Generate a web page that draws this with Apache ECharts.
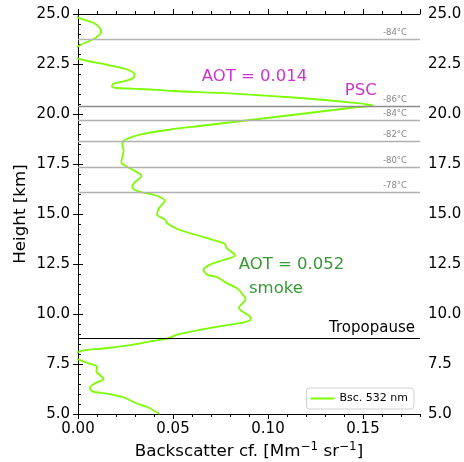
<!DOCTYPE html>
<html>
<head>
<meta charset="utf-8">
<script src="https://cdn.jsdelivr.net/npm/echarts@6/dist/echarts.min.js"></script>
<style>html,body{margin:0;padding:0;background:#fff}#c{width:464px;height:462px}</style>
</head>
<body>
<div id="c"></div>
<script>
// Height [km] of each profile point (top to bottom)
const heights = [25.0,24.8,24.55,24.3,24.08,23.9,23.75,23.4,23.0,22.76,22.46,22.25,22.0,21.8,21.63,21.5,21.38,21.3,21.25,21.15,21.03,20.8,20.58,20.43,20.3,20.0,19.7,19.4,19.22,18.97,18.7,18.47,18.2,17.9,17.63,17.47,17.2,16.9,16.58,16.35,16.13,15.97,15.66,15.3,14.97,14.72,14.5,14.2,13.9,13.7,13.5,13.3,12.93,12.7,12.47,12.2,11.97,11.84,11.53,11.28,10.9,10.75,10.3,10.08,9.88,9.72,9.58,9.42,9.22,8.97,8.77,8.63,8.47,8.3,8.18,8.1,7.9,7.72,7.53,7.37,7.13,6.92,6.75,6.55,6.3,6.13,6.02,5.83,5.55,5.35,5.0];
// Backscatter coefficient 532 nm [Mm^-1 sr^-1]
const bsc532 = [-0.002,0.0005,0.0083,0.0115,0.0121,0.0105,0.0083,0.0004,-0.004,0.0004,0.0153,0.025,0.0297,0.029,0.024,0.0184,0.0179,0.0205,0.0329,0.050,0.080,0.117,0.143,0.155,0.143,0.117,0.0906,0.064,0.0484,0.0326,0.0247,0.0233,0.024,0.0235,0.0228,0.0237,0.029,0.0334,0.0298,0.0286,0.0316,0.0395,0.0457,0.0427,0.0416,0.0457,0.0474,0.0536,0.0641,0.0712,0.0773,0.0782,0.0826,0.0765,0.0694,0.066,0.068,0.0733,0.0785,0.0838,0.0873,0.0882,0.0847,0.0873,0.0905,0.0908,0.0873,0.0768,0.0645,0.0522,0.0469,0.0381,0.0293,0.0153,0.003,0.0004,-0.004,0.0004,0.0056,0.01,0.0097,0.0118,0.0135,0.0092,0.0062,0.0074,0.0153,0.0241,0.0302,0.0364,0.043];
// Temperature reference levels
const refHeights = [23.72,20.38,19.68,18.63,17.33,16.08];
const refTemps = ['-84°C','-86°C','-84°C','-82°C','-80°C','-78°C'];
const tropopauseHeight = 8.77;
// Annotations: text, x value, height
const annTexts = ['AOT = 0.014','PSC','AOT = 0.052','smoke'];
const annX = [0.0651,0.1404,0.0846,0.09];
const annH = [21.87,21.17,12.47,11.25];
const annColors = ['#bf00bf','#bf00bf','#008000','#008000'];
const xTickLabels = ['0.00','0.05','0.10','0.15'];
const yTickLabels = ['5.0','7.5','10.0','12.5','15.0','17.5','20.0','22.5','25.0'];

const FONT = 'DejaVu Sans';
const chart = echarts.init(document.getElementById('c'));
const black = {color:'#000', width:1};
const refColors = ['#b5b5b5','#8c8c8c','#b0b0b0','#b0b0b0','#b0b0b0','#b0b0b0'];

const markData = refHeights.map((h,i)=>({
  yAxis: h,
  lineStyle:{color:refColors[i], width:1.3, type:'solid'},
  label:{show:true, formatter:refTemps[i], position:'insideEndTop', distance:[13,2], color:'#888', fontSize:8.5, fontFamily:FONT}
}));
markData.push({
  yAxis: tropopauseHeight,
  lineStyle:{color:'#000', width:1.2, type:'solid'},
  label:{show:true, formatter:'Tropopause', position:'insideEndTop', distance:[5,3], color:'#000', fontSize:15, fontFamily:FONT}
});

const common = {type:'value', min:0, max:0.18, splitLine:{show:false}};
const option = {
  animation:false,
  textStyle:{fontFamily:FONT},
  grid:{left:78, top:14, right:44, bottom:48, containLabel:false, outerBoundsMode:'none'},
  legend:{
    data:['Bsc. 532 nm'], right:50, bottom:53, orient:'vertical',
    icon:'rect', itemWidth:24, itemHeight:2, itemGap:0,
    backgroundColor:'#fff', borderColor:'#d0d0d0', borderWidth:1, borderRadius:3,
    padding:[5,6,5,4],
    textStyle:{fontSize:11, color:'#000', fontFamily:FONT}
  },
  xAxis:[
    Object.assign({}, common, {position:'bottom', interval:0.05,
      axisLine:{show:true, lineStyle:black}, axisTick:{show:true, length:5, lineStyle:black},
      axisLabel:{show:true, fontSize:15, color:'#000', margin:8, showMaxLabel:false,
        formatter:(v)=>{const i=Math.round(v/0.05); return Math.abs(v-i*0.05)<1e-9 && xTickLabels[i] ? xTickLabels[i] : '';}},
      name:'{a|Backscatter cf. [Mm}{s|−1}{a| sr}{s|−1}{a|]}', nameLocation:'middle', nameGap:27, nameMoveOverlap:false,
      nameTextStyle:{rich:{a:{fontSize:16.7, color:'#000', fontFamily:FONT}, s:{fontSize:12, color:'#000', fontFamily:FONT, padding:[0,0,9,0]}}}
    }),
    Object.assign({}, common, {position:'bottom', interval:0.01,
      axisLine:{show:false}, axisTick:{show:true, length:3, lineStyle:black}, axisLabel:{show:false}}),
    Object.assign({}, common, {position:'top', interval:0.05,
      axisLine:{show:true, lineStyle:black}, axisTick:{show:true, length:5, lineStyle:black}, axisLabel:{show:false}}),
    Object.assign({}, common, {position:'top', interval:0.01,
      axisLine:{show:false}, axisTick:{show:true, length:3, lineStyle:black}, axisLabel:{show:false}})
  ],
  yAxis:[
    {type:'value', position:'left', min:5, max:25, interval:2.5, splitLine:{show:false},
      axisLine:{show:true, lineStyle:black}, axisTick:{show:true, length:5, lineStyle:black},
      axisLabel:{fontSize:15, color:'#000', margin:8, formatter:(v)=>yTickLabels[Math.round((v-5)/2.5)]},
      name:'Height [km]', nameLocation:'middle', nameGap:49, nameMoveOverlap:false,
      nameTextStyle:{fontSize:16.7, color:'#000', fontFamily:FONT}},
    {type:'value', position:'right', min:5, max:25, interval:2.5, splitLine:{show:false},
      axisLine:{show:true, lineStyle:black}, axisTick:{show:true, length:5, lineStyle:black},
      minorTick:{show:true, splitNumber:5, length:3, lineStyle:black},
      axisLabel:{fontSize:15, color:'#000', margin:8, formatter:(v)=>yTickLabels[Math.round((v-5)/2.5)]}}
  ],
  series:[
    {name:'Bsc. 532 nm', type:'line', xAxisIndex:0, yAxisIndex:0,
      data: heights.map((h,i)=>[bsc532[i], h]),
      showSymbol:false, symbol:'none', smooth:0.3, clip:true,
      lineStyle:{color:'#7CFC00', width:1.8}, itemStyle:{color:'#7CFC00'},
      markLine:{silent:true, symbol:['none','none'], data:markData}
    },
    {name:'ann', type:'scatter', xAxisIndex:0, yAxisIndex:0, symbolSize:0, silent:true,
      data: annTexts.map((t,i)=>({value:[annX[i], annH[i]], name:t,
        label:{show:true, position:'right', distance:0, formatter:t, color:annColors[i], fontSize:16.5, fontFamily:FONT}}))
    }
  ]
};
chart.setOption(option);
</script>
</body>
</html>
